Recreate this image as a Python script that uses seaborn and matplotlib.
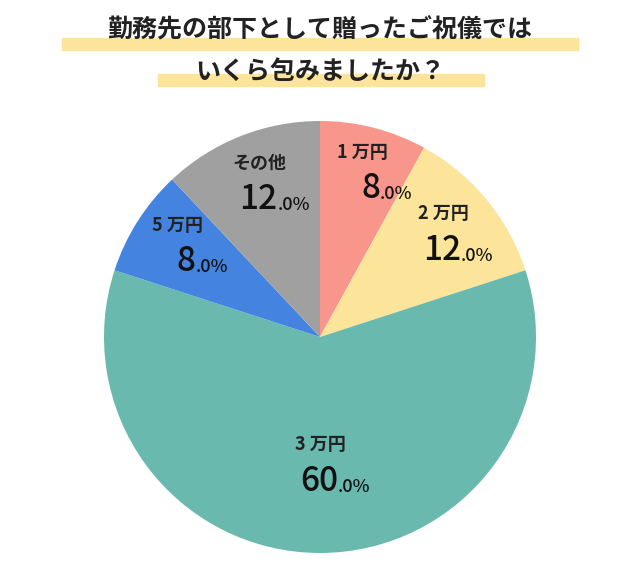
import numpy as np
import seaborn as sns
import matplotlib.pyplot as plt

sns.set_theme(style='white')
plt.rcParams['font.family'] = ['Noto Sans CJK JP', 'DejaVu Sans']

labels = ['1万円', '2万円', '3万円', '5万円', 'その他']
values = [8.0, 12.0, 60.0, 8.0, 12.0]
colors = ['#F8968C', '#FCE59B', '#69B9AE', '#4583E0', '#A0A0A0']
label_r = [0.78, 0.74, 0.6, 0.78, 0.76]

fig = plt.figure(figsize=(6.4, 5.81), dpi=100)
ax = fig.add_axes([(320 - 216) / 640, 1 - (337 + 216) / 581, 432 / 640, 432 / 581])
wedges, _ = ax.pie(values, colors=colors, startangle=90, counterclock=False,
                   wedgeprops=dict(linewidth=0))
ax.set_xlim(-1, 1)
ax.set_ylim(-1, 1)
ax.set_aspect('equal')

for w, name, val, r in zip(wedges, labels, values, label_r):
    ang = np.deg2rad((w.theta1 + w.theta2) / 2)
    x, y = r * np.cos(ang), r * np.sin(ang)
    ax.text(x, y + 0.1, ' '.join([name[0], name[1:]]) if name[0].isdigit() else name,
            ha='center', va='center', fontsize=13, fontweight='bold', color='#222222')
    ax.annotate(f'{int(val)}', (x, y - 0.07), xytext=(13, 0), textcoords='offset points',
                ha='right', va='center', fontsize=24, fontweight='medium', color='#111111')
    ax.annotate(f'.{int(round(val * 10)) % 10}%', (x, y - 0.07), xytext=(13, -4),
                textcoords='offset points', ha='left', va='center', fontsize=13,
                fontweight='medium', color='#111111')

# title with highlighter bars
fig.patches.append(plt.Rectangle((62 / 640, 1 - 50 / 581), 516 / 640, 12 / 581,
                                 transform=fig.transFigure, color='#FCE59B', zorder=0))
fig.patches.append(plt.Rectangle((158 / 640, 1 - 86 / 581), 326 / 640, 12 / 581,
                                 transform=fig.transFigure, color='#FCE59B', zorder=0))
fig.text(0.5, 1 - 30 / 581, '勤務先の部下として贈ったご祝儀では', ha='center', va='center',
         fontsize=18, fontweight='bold', color='#222222')
fig.text(0.5, 1 - 72 / 581, 'いくら包みましたか？', ha='center', va='center',
         fontsize=18, fontweight='bold', color='#222222')

fig.savefig('out.png', dpi=100)
